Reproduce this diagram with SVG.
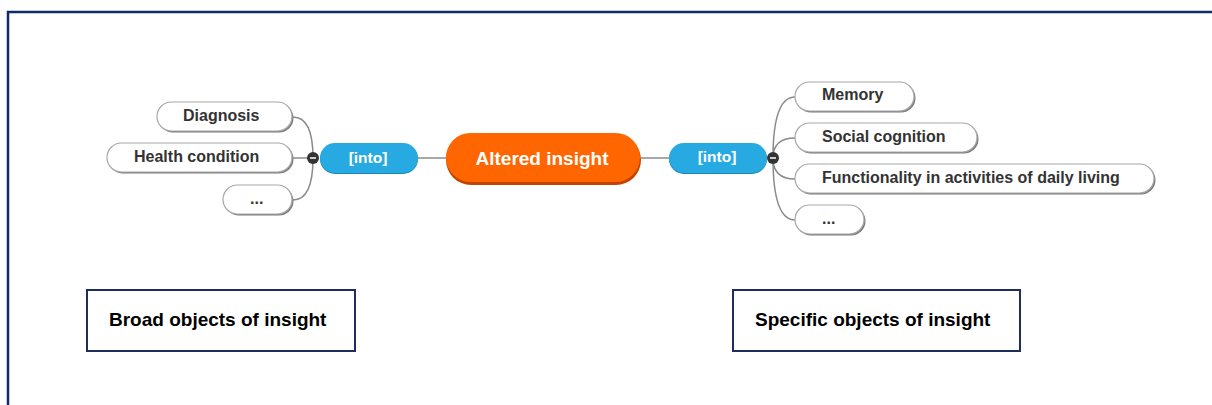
<svg xmlns="http://www.w3.org/2000/svg" width="1212" height="405" viewBox="0 0 1212 405">
  <style>
    .frame { fill: none; stroke: #0d2a6a; stroke-width: 2.5; }
    .leaf { fill: #ffffff; stroke: #a8a8a8; stroke-width: 1.2; }
    .leaf-shadow { fill: #7a7a7a; }
    .leaf-text { font-family: "Liberation Sans", Arial, sans-serif; font-weight: bold; font-size: 16px; fill: #333333; }
    .into { fill: #27aae1; }
    .into-shadow { fill: #1b86b8; }
    .into-text { font-family: "Liberation Sans", Arial, sans-serif; font-weight: bold; font-size: 15.5px; fill: #ffffff; text-anchor: middle; }
    .root { fill: #ff6600; }
    .root-shadow { fill: #c44300; }
    .root-text { font-family: "Liberation Sans", Arial, sans-serif; font-weight: bold; font-size: 19px; fill: #ffffff; text-anchor: middle; }
    .conn { fill: none; stroke: #8a8a8a; stroke-width: 1.5; }
    .toggle { fill: #333333; }
    .toggle-bar { stroke: #ffffff; stroke-width: 1.5; }
    .label-box { fill: #ffffff; stroke: #1f2d5c; stroke-width: 2; }
    .label-text { font-family: "Liberation Sans", Arial, sans-serif; font-weight: bold; font-size: 19px; fill: #000000; }
  </style>

  <!-- outer frame (open to the right and bottom) -->
  <path class="frame" d="M8,405 V12 H1212"/>

  <!-- connectors -->
  <g id="connectors">
    <line class="conn" x1="418" y1="158" x2="446" y2="158"/>
    <line class="conn" x1="641" y1="158" x2="669" y2="158"/>
    <path class="conn" d="M293,117 Q313,117 313,158"/>
    <path class="conn" d="M293,158 H313"/>
    <path class="conn" d="M293,200 Q313,200 313,158"/>
    <path class="conn" d="M773,158 Q773,97 795,97"/>
    <path class="conn" d="M773,158 Q773,138 795,138"/>
    <path class="conn" d="M773,158 Q773,179 795,179"/>
    <path class="conn" d="M773,158 Q773,220 795,220"/>
  </g>

  <!-- central topic -->
  <g id="altered-insight">
    <rect class="root-shadow" x="446" y="135" width="195" height="50" rx="25"/>
    <rect class="root" x="446" y="133" width="194" height="49" rx="24.5"/>
    <text class="root-text" x="542" y="165">Altered insight</text>
  </g>

  <!-- left relation -->
  <g id="into-left">
    <rect class="into-shadow" x="320" y="144" width="98" height="30" rx="15"/>
    <rect class="into" x="320" y="143" width="98" height="30" rx="15"/>
    <text class="into-text" x="368" y="163">[into]</text>
  </g>
  <g id="toggle-left">
    <circle class="toggle" cx="313" cy="158" r="6"/>
    <line class="toggle-bar" x1="310" y1="158" x2="316" y2="158"/>
  </g>

  <!-- right relation -->
  <g id="into-right">
    <rect class="into-shadow" x="669" y="144" width="98" height="30" rx="15"/>
    <rect class="into" x="669" y="143" width="98" height="30" rx="15"/>
    <text class="into-text" x="717" y="162">[into]</text>
  </g>
  <g id="toggle-right">
    <circle class="toggle" cx="773" cy="158" r="6"/>
    <line class="toggle-bar" x1="770" y1="158" x2="776" y2="158"/>
  </g>

  <!-- broad objects -->
  <g id="diagnosis">
    <rect class="leaf-shadow" x="158.5" y="103.5" width="135" height="29" rx="14.5"/>
    <rect class="leaf" x="157" y="102" width="135" height="29" rx="14.5"/>
    <text class="leaf-text" x="183" y="121">Diagnosis</text>
  </g>
  <g id="health-condition">
    <rect class="leaf-shadow" x="108.5" y="144.5" width="185" height="29" rx="14.5"/>
    <rect class="leaf" x="107" y="143" width="185" height="29" rx="14.5"/>
    <text class="leaf-text" x="134" y="162">Health condition</text>
  </g>
  <g id="broad-more">
    <rect class="leaf-shadow" x="224.5" y="186.5" width="69" height="29" rx="14.5"/>
    <rect class="leaf" x="223" y="185" width="69" height="29" rx="14.5"/>
    <text class="leaf-text" x="250" y="204">...</text>
  </g>

  <!-- specific objects -->
  <g id="memory">
    <rect class="leaf-shadow" x="796.5" y="83.5" width="119" height="29" rx="14.5"/>
    <rect class="leaf" x="795" y="82" width="119" height="29" rx="14.5"/>
    <text class="leaf-text" x="822" y="100">Memory</text>
  </g>
  <g id="social-cognition">
    <rect class="leaf-shadow" x="796.5" y="124.5" width="182" height="29" rx="14.5"/>
    <rect class="leaf" x="795" y="123" width="182" height="29" rx="14.5"/>
    <text class="leaf-text" x="822" y="142">Social cognition</text>
  </g>
  <g id="functionality">
    <rect class="leaf-shadow" x="796.5" y="165.5" width="359" height="29" rx="14.5"/>
    <rect class="leaf" x="795" y="164" width="359" height="29" rx="14.5"/>
    <text class="leaf-text" x="822" y="183">Functionality in activities of daily living</text>
  </g>
  <g id="specific-more">
    <rect class="leaf-shadow" x="796.5" y="206.5" width="69" height="29" rx="14.5"/>
    <rect class="leaf" x="795" y="205" width="69" height="29" rx="14.5"/>
    <text class="leaf-text" x="822" y="224">...</text>
  </g>

  <!-- category labels -->
  <g id="broad-label">
    <rect class="label-box" x="87" y="290" width="268" height="61"/>
    <text class="label-text" x="109" y="326">Broad objects of insight</text>
  </g>
  <g id="specific-label">
    <rect class="label-box" x="733" y="290" width="287" height="61"/>
    <text class="label-text" x="755" y="326">Specific objects of insight</text>
  </g>
</svg>
